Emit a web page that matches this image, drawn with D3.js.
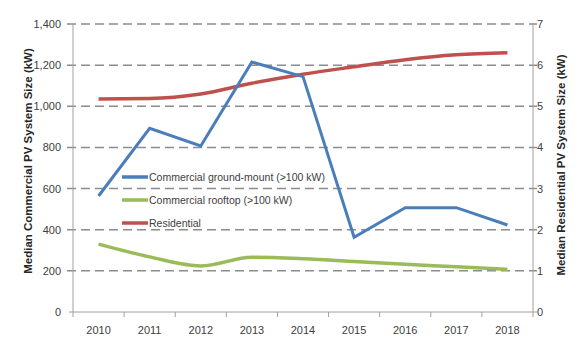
<!DOCTYPE html>
<html>
<head>
<meta charset="utf-8">
<script src="https://cdn.jsdelivr.net/npm/d3@7"></script>
<style>
  html, body { margin: 0; padding: 0; background: #fff; }
  svg { display: block; }
  text { font-family: "Liberation Sans", Arial, sans-serif; }
</style>
</head>
<body>
<script>
const years = ["2010", "2011", "2012", "2013", "2014", "2015", "2016", "2017", "2018"];
const groundMount = [564, 893, 807, 1215, 1144, 363, 507, 507, 423];
const rooftop = [330, 268, 224, 266, 259, 246, 232, 220, 207];
const residential = [5.18, 5.19, 5.30, 5.56, 5.78, 5.96, 6.13, 6.25, 6.30];
const leftTicks = [0, 200, 400, 600, 800, 1000, 1200, 1400];
const rightTicks = [0, 1, 2, 3, 4, 5, 6, 7];
const seriesNames = ["Commercial ground-mount (>100 kW)", "Commercial rooftop (>100 kW)", "Residential"];
const colors = ["#4a7ebb", "#9bbb59", "#c0504d"];

const W = 581, H = 343;
const plotLeft = 73, plotRight = 533, plotTop = 24, plotBottom = 312;

const svg = d3.select("body").append("svg").attr("width", W).attr("height", H);

const x = d3.scaleBand().domain(years).range([plotLeft, plotRight]);
const yL = d3.scaleLinear().domain([0, 1400]).range([plotBottom, plotTop]);
const yR = d3.scaleLinear().domain([0, 7]).range([plotBottom, plotTop]);

// dashed horizontal gridlines
svg.append("g").selectAll("line").data(leftTicks.filter(d => d > 0)).join("line")
  .attr("x1", plotLeft - 6).attr("x2", plotRight + 4)
  .attr("y1", d => yL(d)).attr("y2", d => yL(d))
  .attr("stroke", "#8c8c8c").attr("stroke-width", 1.5)
  .attr("stroke-dasharray", "9,5");

// vertical axes
svg.append("line").attr("x1", plotLeft).attr("x2", plotLeft).attr("y1", plotTop).attr("y2", plotBottom)
  .attr("stroke", "#a0a0a0").attr("stroke-width", 1);
svg.append("line").attr("x1", plotRight).attr("x2", plotRight).attr("y1", plotTop).attr("y2", plotBottom)
  .attr("stroke", "#a0a0a0").attr("stroke-width", 1);

// x axis baseline and ticks
svg.append("line").attr("x1", plotLeft - 4).attr("x2", plotRight + 4).attr("y1", plotBottom).attr("y2", plotBottom)
  .attr("stroke", "#a0a0a0").attr("stroke-width", 1);
const edges = years.map(d => x(d)).concat([plotRight]);
svg.append("g").selectAll("line").data(edges).join("line")
  .attr("x1", d => d).attr("x2", d => d).attr("y1", plotBottom).attr("y2", plotBottom + 5)
  .attr("stroke", "#a0a0a0");

// tick labels
svg.append("g").selectAll("text").data(years).join("text")
  .attr("x", d => x(d) + x.bandwidth() / 2).attr("y", 334)
  .attr("text-anchor", "middle").attr("font-size", 11).attr("fill", "#404040")
  .text(d => d);

svg.append("g").selectAll("text").data(leftTicks).join("text")
  .attr("x", 61).attr("y", d => yL(d) + 4)
  .attr("text-anchor", "end").attr("font-size", 11).attr("fill", "#404040")
  .text(d => d3.format(",")(d));

svg.append("g").selectAll("text").data(rightTicks).join("text")
  .attr("x", 537).attr("y", d => yR(d) + 4)
  .attr("text-anchor", "start").attr("font-size", 11).attr("fill", "#404040")
  .text(d => d);

// axis titles
svg.append("text")
  .attr("transform", "translate(32,161) rotate(-90)")
  .attr("text-anchor", "middle").attr("font-size", 11.5).attr("font-weight", "bold")
  .attr("fill", "#262626")
  .text("Median Commercial PV System Size (kW)");
svg.append("text")
  .attr("transform", "translate(565,165) rotate(-90)")
  .attr("text-anchor", "middle").attr("font-size", 11.5).attr("font-weight", "bold")
  .attr("fill", "#262626")
  .text("Median Residential PV System Size (kW)");

// series lines
const cx = d => x(d) + x.bandwidth() / 2;
const lineL = d3.line().x(d => cx(d[0])).y(d => yL(d[1]));
const smoothL = d3.line().curve(d3.curveMonotoneX).x(d => cx(d[0])).y(d => yL(d[1]));
const smoothR = d3.line().curve(d3.curveMonotoneX).x(d => cx(d[0])).y(d => yR(d[1]));

svg.append("path").datum(years.map((y, i) => [y, rooftop[i]]))
  .attr("d", smoothL).attr("fill", "none").attr("stroke", colors[1]).attr("stroke-width", 3.5);
svg.append("path").datum(years.map((y, i) => [y, residential[i]]))
  .attr("d", smoothR).attr("fill", "none").attr("stroke", colors[2]).attr("stroke-width", 3.5);
svg.append("path").datum(years.map((y, i) => [y, groundMount[i]]))
  .attr("d", lineL).attr("fill", "none").attr("stroke", colors[0]).attr("stroke-width", 3)
  .attr("stroke-linejoin", "miter");

// legend
const lg = svg.append("g");
seriesNames.forEach((name, i) => {
  const ly = 177 + i * 23;
  lg.append("line").attr("x1", 122).attr("x2", 148).attr("y1", ly).attr("y2", ly)
    .attr("stroke", colors[i]).attr("stroke-width", 3.5);
  lg.append("text").attr("x", 149).attr("y", ly + 4).attr("font-size", 10.5)
    .attr("fill", "#404040").text(name);
});
</script>
</body>
</html>
